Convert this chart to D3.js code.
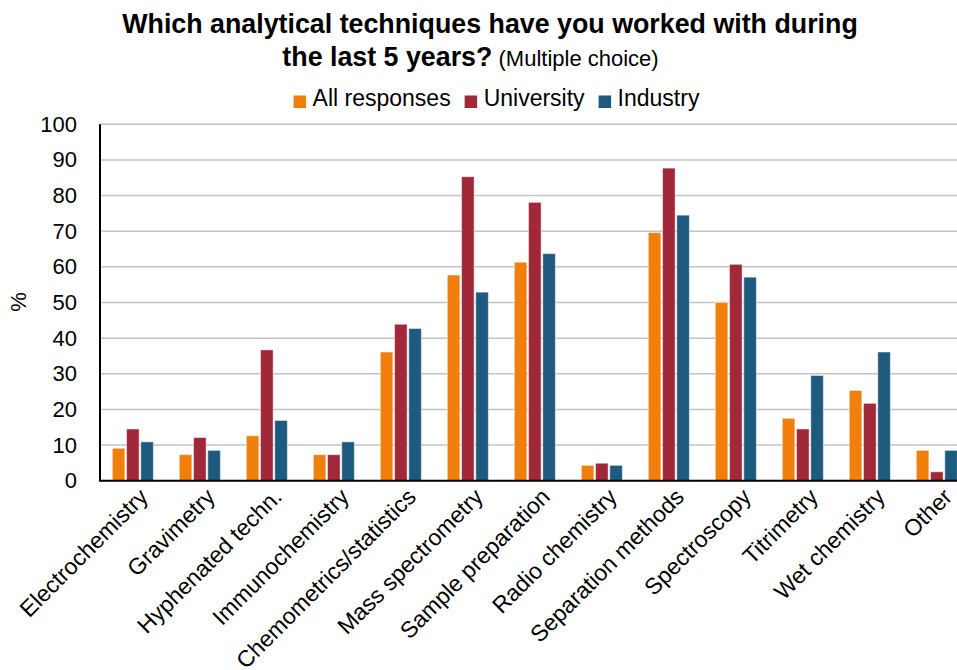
<!DOCTYPE html>
<html>
<head>
<meta charset="utf-8">
<script src="https://cdn.jsdelivr.net/npm/d3@7"></script>
<style>
  html, body { margin: 0; padding: 0; background: #fff; overflow: hidden; }
  svg { display: block; font-family: "Liberation Sans", Arial, sans-serif; }
</style>
</head>
<body>
<svg id="chart" width="957" height="670"></svg>
<script>
// Survey results: share of respondents (%) per analytical technique
const categories = [
  "Electrochemistry", "Gravimetry", "Hyphenated techn.", "Immunochemistry",
  "Chemometrics/statistics", "Mass spectrometry", "Sample preparation",
  "Radio chemistry", "Separation methods", "Spectroscopy", "Titrimetry",
  "Wet chemistry", "Other"
];
const seriesNames = ["All responses", "University", "Industry"];
const allResponses = [9.1, 7.3, 12.6, 7.3, 36.1, 57.7, 61.3, 4.3, 69.6, 50.0, 17.5, 25.3, 8.5];
const university   = [14.5, 12.1, 36.7, 7.3, 43.9, 85.3, 78.1, 4.9, 87.7, 60.7, 14.5, 21.7, 2.5];
const industry     = [10.9, 8.5, 16.9, 10.9, 42.7, 52.9, 63.7, 4.3, 74.5, 57.1, 29.5, 36.1, 8.5];
const yTicks = [0, 10, 20, 30, 40, 50, 60, 70, 80, 90, 100];

const seriesValues = [allResponses, university, industry];
const colors = ["#F07F0C", "#A12839", "#1E5A7E"];

const svg = d3.select("#chart");

// Plot geometry
const plotLeft = 100, plotTop = 124.3, plotBottom = 480.7;
const step = 67;
const padInner = 0.388, padOuter = 0.184;

const y = d3.scaleLinear().domain([0, 100]).range([plotBottom, plotTop]);
const x0 = d3.scaleBand()
  .domain(categories)
  .range([plotLeft, plotLeft + step * (categories.length - padInner + 2 * padOuter)])
  .paddingInner(padInner)
  .paddingOuter(padOuter);
const x1 = d3.scaleBand()
  .domain(seriesNames)
  .range([0, x0.bandwidth()])
  .paddingInner(0.12);

// Horizontal gridlines
svg.append("g")
  .selectAll("line")
  .data(yTicks.filter(d => d > 0))
  .join("line")
  .attr("x1", plotLeft).attr("x2", 957)
  .attr("y1", d => y(d)).attr("y2", d => y(d))
  .attr("stroke", "#c4c4c4")
  .attr("stroke-width", 1.5);

// Bars
const rows = categories.map((c, i) => ({
  cat: c,
  vals: seriesNames.map((s, j) => ({ s, j, v: seriesValues[j][i] }))
}));

svg.append("g")
  .selectAll("g")
  .data(rows)
  .join("g")
  .attr("transform", d => `translate(${x0(d.cat)},0)`)
  .selectAll("rect")
  .data(d => d.vals)
  .join("rect")
  .attr("x", d => x1(d.s))
  .attr("width", x1.bandwidth())
  .attr("y", d => y(d.v))
  .attr("height", d => y(0) - y(d.v))
  .attr("fill", d => colors[d.j])
  .attr("stroke", "#ffffff")
  .attr("stroke-opacity", 0.45)
  .attr("stroke-width", 1);

// Y axis
const yAxis = d3.axisLeft(y).tickValues(yTicks).tickSize(0).tickPadding(23);
const gy = svg.append("g")
  .attr("transform", `translate(${plotLeft},0)`)
  .call(yAxis);
gy.select(".domain").attr("stroke", "#000").attr("stroke-width", 2)
  .attr("d", `M0,${plotTop}V${plotBottom}`);
gy.selectAll("text")
  .attr("font-size", 22)
  .attr("font-family", "Liberation Sans, Arial, sans-serif")
  .attr("fill", "#000");

// X axis
const xAxis = d3.axisBottom(x0).tickSize(0).tickFormat(d => d);
const gx = svg.append("g")
  .attr("transform", `translate(0,${plotBottom})`)
  .call(xAxis);
gx.select(".domain").attr("stroke", "#000").attr("stroke-width", 2)
  .attr("d", `M${plotLeft - 1},0H957`);
gx.selectAll(".tick text")
  .attr("font-size", 23)
  .attr("font-family", "Liberation Sans, Arial, sans-serif")
  .attr("fill", "#000")
  .attr("text-anchor", "end")
  .attr("x", 0).attr("y", 0).attr("dy", "0.71em")
  .attr("transform", "translate(5,6) rotate(-45)");

// Y axis title
svg.append("text")
  .attr("transform", "translate(26,302) rotate(-90)")
  .attr("text-anchor", "middle")
  .attr("font-size", 22)
  .text("%");

// Chart title
svg.append("text")
  .attr("x", 490).attr("y", 33)
  .attr("text-anchor", "middle")
  .attr("font-size", 26.8)
  .attr("font-weight", "bold")
  .text("Which analytical techniques have you worked with during");

const t2 = svg.append("text")
  .attr("x", 470.5).attr("y", 65.5)
  .attr("text-anchor", "middle");
t2.append("tspan").attr("font-size", 26.8).attr("font-weight", "bold").text("the last 5 years?");
t2.append("tspan").attr("font-size", 22).text(" (Multiple choice)");

// Legend
const legend = svg.append("g");
let lx = 0;
seriesNames.forEach((name, i) => {
  const g = legend.append("g");
  g.append("rect")
    .attr("x", 0).attr("y", 95.5)
    .attr("width", 12.5).attr("height", 12.5)
    .attr("fill", colors[i]);
  const t = g.append("text")
    .attr("x", 19).attr("y", 106)
    .attr("font-size", 23)
    .text(name);
  const w = 19 + t.node().getComputedTextLength();
  g.attr("transform", `translate(${lx},0)`);
  lx += w + 14;
});
const legendWidth = lx - 14;
legend.attr("transform", `translate(${496.5 - legendWidth / 2},0)`);
</script>
</body>
</html>
